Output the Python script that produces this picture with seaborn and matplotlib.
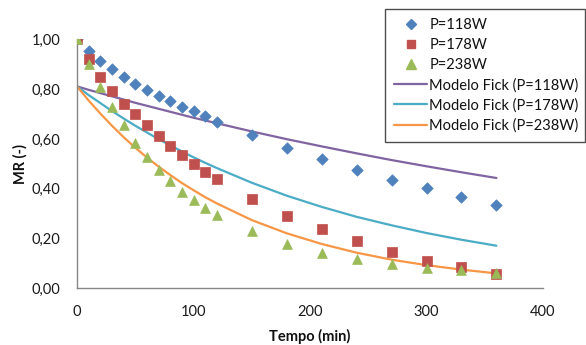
import matplotlib
matplotlib.use("Agg")
import matplotlib.pyplot as plt
import seaborn as sns
import pandas as pd
from matplotlib.lines import Line2D

# ---------------- data ----------------
tempo = [0, 10, 20, 30, 40, 50, 60, 70, 80, 90, 100, 110, 120,
         150, 180, 210, 240, 270, 300, 330, 360]

mr_118 = [1.000, 0.954, 0.914, 0.880, 0.849, 0.821, 0.797, 0.772, 0.753, 0.727,
          0.711, 0.690, 0.666, 0.616, 0.565, 0.519, 0.475, 0.436, 0.402, 0.368, 0.335]
mr_178 = [1.000, 0.922, 0.850, 0.793, 0.739, 0.699, 0.655, 0.612, 0.573, 0.536,
          0.501, 0.467, 0.437, 0.359, 0.291, 0.238, 0.190, 0.146, 0.111, 0.084, 0.057]
mr_238 = [1.000, 0.901, 0.810, 0.727, 0.656, 0.585, 0.527, 0.474, 0.431, 0.388,
          0.355, 0.324, 0.296, 0.229, 0.178, 0.141, 0.117, 0.096, 0.082, 0.072, 0.061]

fick_118 = [0.811, 0.797, 0.784, 0.771, 0.758, 0.745, 0.733, 0.721, 0.709, 0.697,
            0.685, 0.674, 0.663, 0.630, 0.599, 0.570, 0.542, 0.515, 0.490, 0.466, 0.443]
fick_178 = [0.811, 0.776, 0.744, 0.712, 0.682, 0.653, 0.626, 0.599, 0.574, 0.550,
            0.526, 0.504, 0.483, 0.424, 0.372, 0.327, 0.287, 0.253, 0.222, 0.195, 0.171]
fick_238 = [0.811, 0.754, 0.702, 0.653, 0.607, 0.565, 0.525, 0.489, 0.455, 0.423,
            0.394, 0.366, 0.341, 0.274, 0.221, 0.178, 0.143, 0.115, 0.093, 0.075, 0.060]

labels_exp = ["P=118W", "P=178W", "P=238W"]
labels_fick = ["Modelo Fick (P=118W)", "Modelo Fick (P=178W)", "Modelo Fick (P=238W)"]
xticks = [0, 100, 200, 300, 400]
yticks = [0.0, 0.2, 0.4, 0.6, 0.8, 1.0]

# ---------------- style ----------------
sns.set_theme(style="white")
plt.rcParams["font.family"] = ["Lato", "DejaVu Sans"]

c_blue, c_red, c_green = "#4F81BD", "#C0504D", "#9BBB59"
c_purple, c_cyan, c_orange = "#8064A2", "#4BACC6", "#F79646"
spine_c = "#868686"

fig = plt.figure(figsize=(5.86, 3.45), dpi=100)
ax = fig.add_axes([77 / 586, 1 - 288.3 / 345, (543 - 77) / 586, (288.3 - 39.3) / 345])

df = pd.DataFrame({"t": tempo, "e118": mr_118, "e178": mr_178, "e238": mr_238,
                   "f118": fick_118, "f178": fick_178, "f238": fick_238})

for col, c in zip(["f118", "f178", "f238"], [c_purple, c_cyan, c_orange]):
    sns.lineplot(data=df, x="t", y=col, ax=ax, color=c, linewidth=1.6, zorder=2,
                 legend=False)

sns.scatterplot(data=df, x="t", y="e118", ax=ax, marker="D", s=34, color=c_blue,
                edgecolor=c_blue, linewidth=0.5, zorder=3, legend=False)
sns.scatterplot(data=df, x="t", y="e178", ax=ax, marker="s", s=44, color=c_red,
                edgecolor=c_red, linewidth=0.5, zorder=3, legend=False)
sns.scatterplot(data=df, x="t", y="e238", ax=ax, marker="^", s=50, color=c_green,
                edgecolor=c_green, linewidth=0.5, zorder=4, legend=False)

ax.set_xlim(0, 400)
ax.set_ylim(0, 1.0)
ax.set_xticks(xticks)
ax.set_xticklabels([str(v) for v in xticks])
ax.set_yticks(yticks)
ax.set_yticklabels([f"{v:.2f}".replace(".", ",") for v in yticks])

for s in ["top", "right"]:
    ax.spines[s].set_visible(False)
for s in ["left", "bottom"]:
    ax.spines[s].set_color(spine_c)
    ax.spines[s].set_linewidth(1.0)

ax.tick_params(axis="both", which="major", direction="out", length=5, width=1,
               color=spine_c, labelsize=10.5, labelcolor="#1a1a1a")
ax.tick_params(axis="y", pad=7)
ax.tick_params(axis="x", pad=7)

ax.set_xlabel("Tempo (min)", fontsize=10.5, fontweight="bold", color="#111111", labelpad=7)
ax.set_ylabel("MR (-)", fontsize=10.5, fontweight="bold", color="#111111", labelpad=3)

handles = [
    Line2D([], [], linestyle="none", marker="D", markersize=5, color=c_blue),
    Line2D([], [], linestyle="none", marker="s", markersize=6, color=c_red),
    Line2D([], [], linestyle="none", marker="^", markersize=6.5, color=c_green),
    Line2D([], [], color=c_purple, linewidth=1.6),
    Line2D([], [], color=c_cyan, linewidth=1.6),
    Line2D([], [], color=c_orange, linewidth=1.6),
]
leg = ax.legend(handles, labels_exp + labels_fick, loc="upper left",
                bbox_to_anchor=(385 / 586, 1 - 9 / 345, 200 / 586, 0.0),
                bbox_transform=fig.transFigure, mode="expand",
                borderaxespad=0, frameon=True, fancybox=False, fontsize=10.5,
                handlelength=2.2, handletextpad=0.2, labelspacing=0.4,
                borderpad=0.65)
for txt in leg.get_texts():
    txt.set_color("#111111")
leg.get_frame().set_edgecolor("#222222")
leg.get_frame().set_linewidth(1.0)

fig.savefig("out.png", dpi=100)
